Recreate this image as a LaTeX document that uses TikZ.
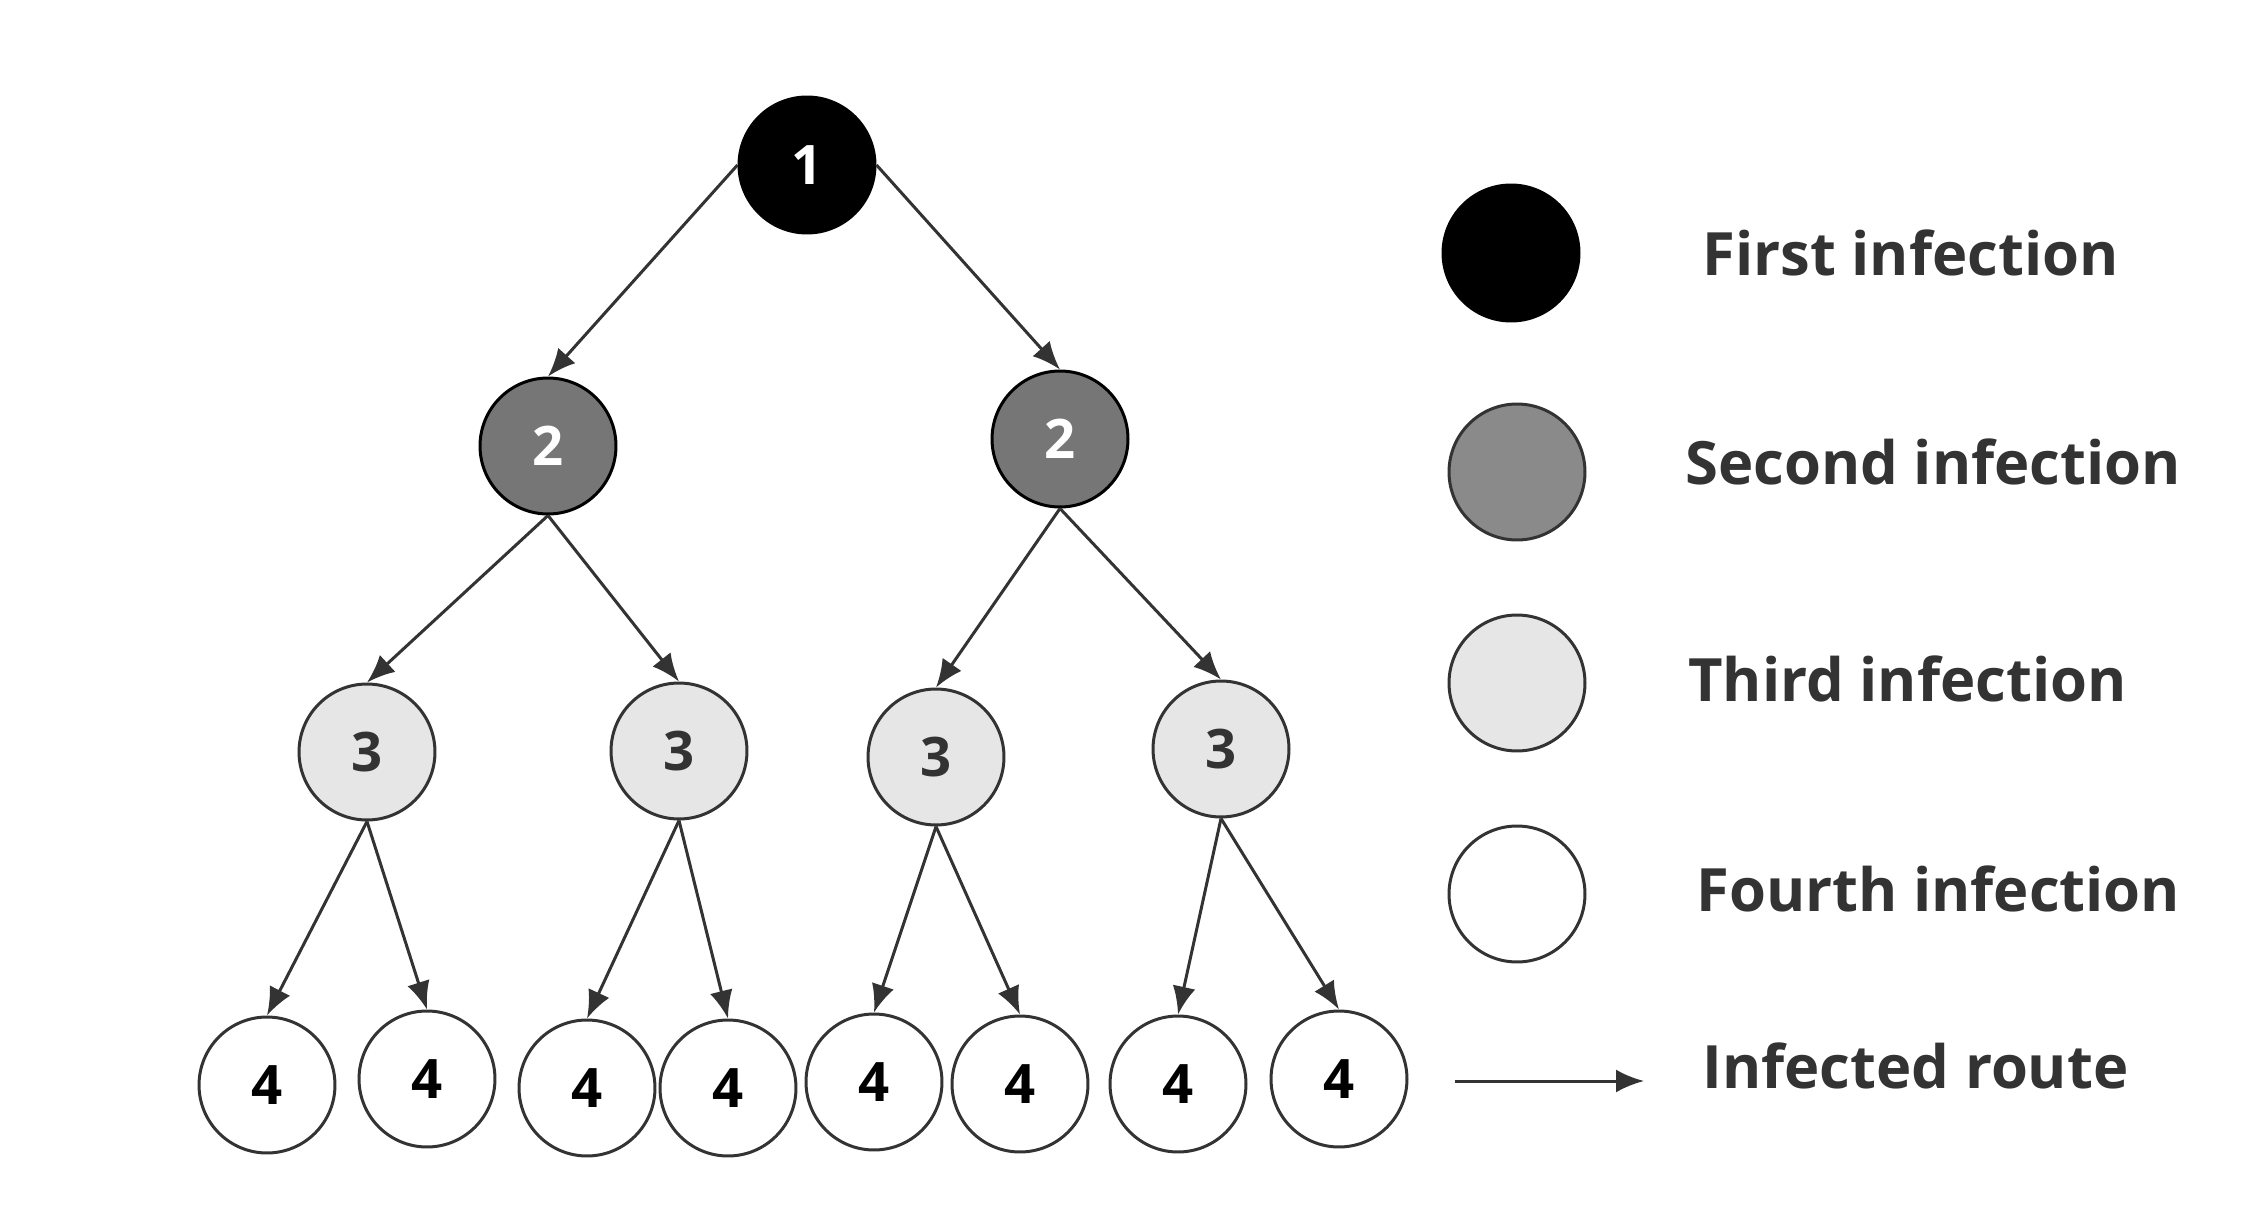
\documentclass[tikz,border=0pt]{standalone}
\usepackage{xcolor}
\usepackage{fontspec}
\setmainfont{Open Sans}
\usepackage{tikz}
\usetikzlibrary{arrows.meta}

\definecolor{ink}{HTML}{333333}
\definecolor{secondfill}{HTML}{767676}
\definecolor{secondkey}{HTML}{8A8A8A}
\definecolor{thirdfill}{HTML}{E6E6E6}

\begin{document}
\begin{tikzpicture}[x=0.02cm, y=-0.02cm, line width=0.06cm,
    every node/.style={font=\fontsize{31}{36}\selectfont\bfseries},
    inf/.style={circle, draw=ink, minimum size=2.72cm, inner sep=0pt},
    first/.style={inf, fill=black, draw=black, text=white},
    second/.style={inf, fill=secondfill, draw=black, text=white},
    third/.style={inf, fill=thirdfill, text=ink},
    fourth/.style={inf, fill=white, text=black},
    keytext/.style={anchor=west, text=ink, font=\fontsize{34}{40}\selectfont\bfseries},
    route/.style={-{Latex[length=0.56cm, width=0.46cm]}, every edge/.style={draw=ink}}]
        \useasboundingbox (0,0) rectangle (2255,1223);

        % the tree
        \node[first]  (i1)  at (807,165)  {1};
        \node[second] (i2l) at (548,446)  {2};
        \node[second] (i2r) at (1060,439) {2};
        \node[third]  (i3a) at (367,752)  {3};
        \node[third]  (i3b) at (679,751)  {3};
        \node[third]  (i3c) at (936,757)  {3};
        \node[third]  (i3d) at (1221,749) {3};
        \node[fourth] (i4a) at (267,1085) {4};
        \node[fourth] (i4b) at (427,1079) {4};
        \node[fourth] (i4c) at (587,1088) {4};
        \node[fourth] (i4d) at (728,1088) {4};
        \node[fourth] (i4e) at (874,1082) {4};
        \node[fourth] (i4f) at (1020,1084) {4};
        \node[fourth] (i4g) at (1178,1084) {4};
        \node[fourth] (i4h) at (1339,1079) {4};

        \path[route]
        (i1.west)  edge (i2l.north)
        (i1.east)  edge (i2r.north)
        (i2l.south) edge (i3a.north)
        (i2l.south) edge (i3b.north)
        (i2r.south) edge (i3c.north)
        (i2r.south) edge (i3d.north)
        (i3a.south) edge (i4a.north)
        (i3a.south) edge (i4b.north)
        (i3b.south) edge (i4c.north)
        (i3b.south) edge (i4d.north)
        (i3c.south) edge (i4e.north)
        (i3c.south) edge (i4f.north)
        (i3d.south) edge (i4g.north)
        (i3d.south) edge (i4h.north);

        % legend
        \node[first]  (k1) at (1511,253) {};
        \node[inf, fill=secondkey] (k2) at (1517,472) {};
        \node[third]  (k3) at (1517,683) {};
        \node[fourth] (k4) at (1517,894) {};
        \coordinate (r0) at (1455,1081);
        \coordinate (r1) at (1644,1081);
        \path[route] (r0) edge (r1);

        \node[keytext] (t1) at (1695,253)  {First infection};
        \node[keytext] (t2) at (1678,462)  {Second infection};
        \node[keytext] (t3) at (1681,679)  {Third infection};
        \node[keytext] (t4) at (1689,889)  {Fourth infection};
        \node[keytext] (t5) at (1695,1066) {Infected route};
    \end{tikzpicture}
\end{document}
